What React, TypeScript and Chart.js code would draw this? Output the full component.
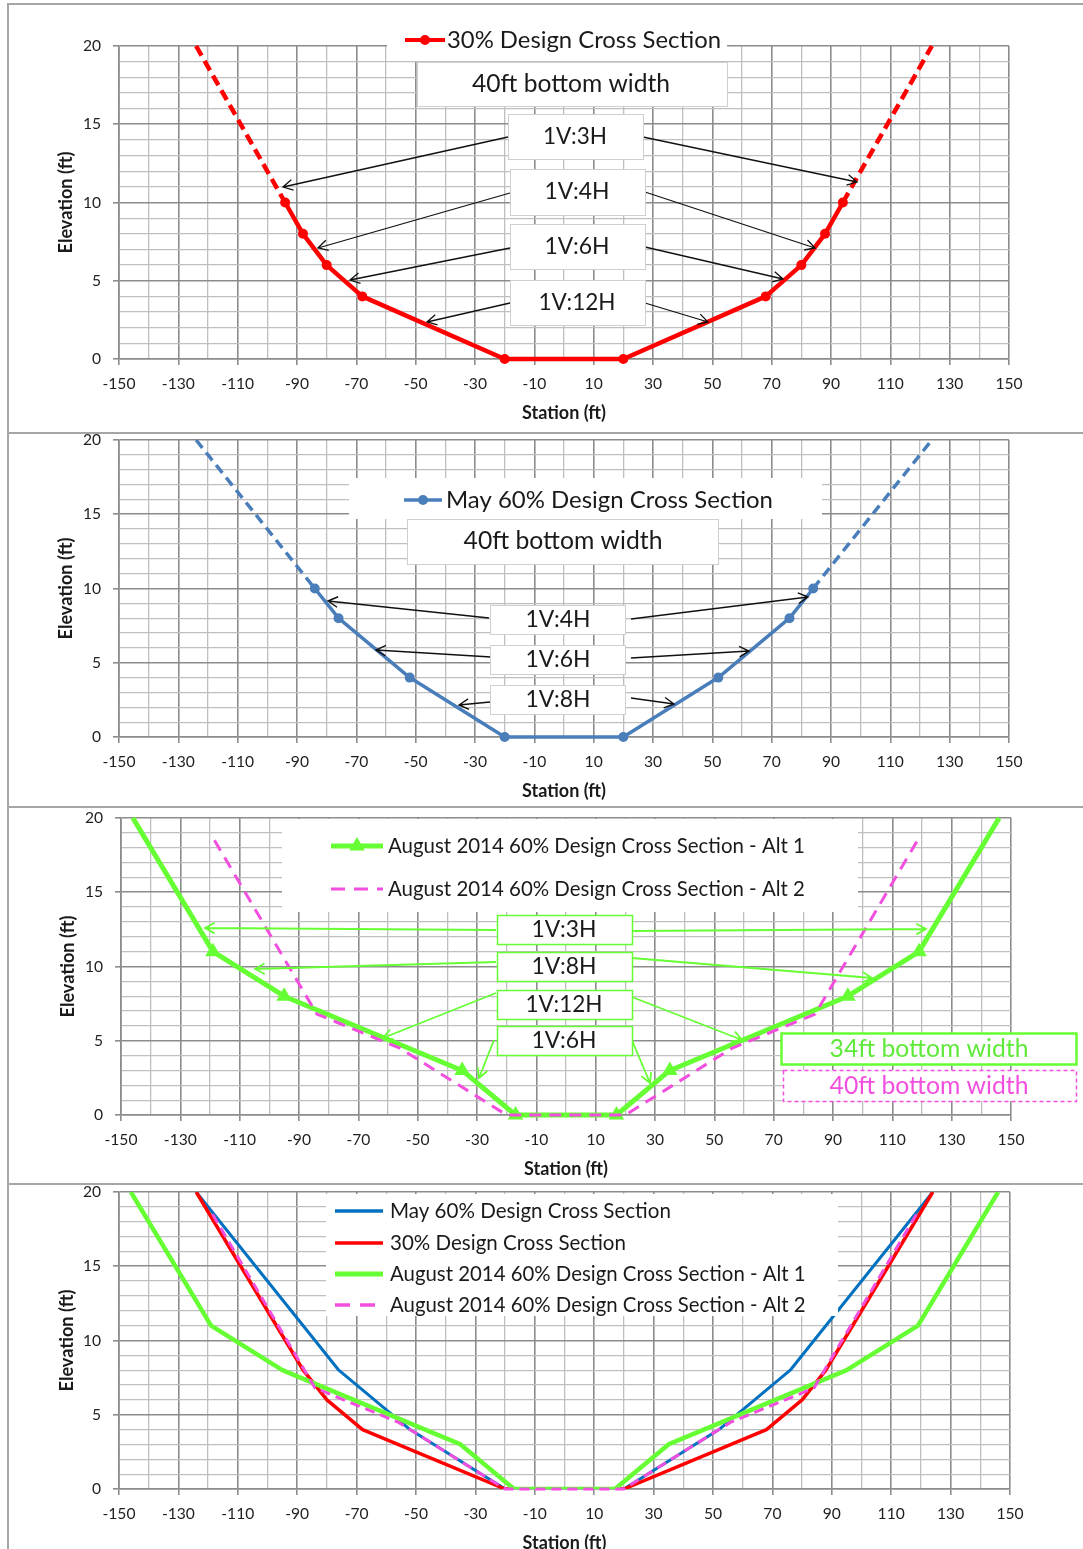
import React, { useEffect, useRef } from 'react';
import { Chart, registerables } from 'chart.js';

Chart.register(...registerables);

const FONT = 'Lato, "Open Sans", "DejaVu Sans", sans-serif';

// ---------- axes ----------
const X_TICK_LABELS = [-150, -130, -110, -90, -70, -50, -30, -10, 10, 30, 50, 70, 90, 110, 130, 150];
const Y_TICK_LABELS = [0, 5, 10, 15, 20];
const X_MIN = -150;
const X_MAX = 150;
const X_GRID_STEP = 10;
const Y_MIN = 0;
const Y_MAX = 20;
const Y_GRID_STEP = 1;
const X_TITLE = 'Station (ft)';
const Y_TITLE = 'Elevation (ft)';

// ---------- series ----------
const LABEL_30 = '30% Design Cross Section';
const LABEL_MAY = 'May 60% Design Cross Section';
const LABEL_ALT1 = 'August 2014 60% Design Cross Section - Alt 1';
const LABEL_ALT2 = 'August 2014 60% Design Cross Section - Alt 2';

const DESIGN30_X = [-124, -94, -88, -80, -68, -20, 20, 68, 80, 88, 94, 124];
const DESIGN30_Y = [20, 10, 8, 6, 4, 0, 0, 4, 6, 8, 10, 20];

const MAY60_X = [-124, -84, -76, -52, -20, 20, 52, 76, 84, 124];
const MAY60_Y = [20, 10, 8, 4, 0, 0, 4, 8, 10, 20];

const ALT1_X = [-146, -119, -95, -35, -17, 17, 35, 95, 119, 146];
const ALT1_Y = [20, 11, 8, 3, 0, 0, 3, 8, 11, 20];

const ALT2_X = [-118.5, -84, -56, -20, 20, 56, 84, 118.5];
const ALT2_Y = [18.5, 6.8, 4.5, 0, 0, 4.5, 6.8, 18.5];

// ---------- annotation texts ----------
const SLOPES_30 = ['1V:3H', '1V:4H', '1V:6H', '1V:12H'];
const SLOPES_MAY = ['1V:4H', '1V:6H', '1V:8H'];
const SLOPES_AUG = ['1V:3H', '1V:8H', '1V:12H', '1V:6H'];
const WIDTH_NOTES = ['40ft bottom width', '34ft bottom width'];

// ---------- colours ----------
const MAJOR = '#8c8c8c';
const MINOR = '#bfbfbf';
const TEXT = '#1a1a1a';
const TICK = '#1f1f1f';
const BOX_EDGE = '#cfcfcf';
const RED = '#FF0000';
const BLUE2 = '#4A7EBB';
const BLUE4 = '#0070C0';
const GREEN = '#66FF33';
const GREEN_TXT = '#5FEA3A';
const MAGENTA = '#F24FDF';

// ---------- helpers ----------
const pts = (xs: number[], ys: number[]) => xs.map((x, i) => ({ x, y: ys[i] }));
const endHidden = (n: number, r: number) => (c: any) => (c.dataIndex === 0 || c.dataIndex === n - 1 ? 0 : r);
const endDash = (n: number, d: number[]) => (c: any) =>
  c.p0DataIndex === 0 || c.p1DataIndex === n - 1 ? d : undefined;

function fitSize(text: string, width: number, weight = 'normal') {
  const c = document.createElement('canvas').getContext('2d') as CanvasRenderingContext2D;
  c.font = `${weight} 100px ${FONT}`;
  return (100 * width) / c.measureText(text).width;
}

function text(ctx: any, oy: number, t: string, x: number, y: number, w: number, color = TEXT, align: CanvasTextAlign = 'center') {
  ctx.save();
  ctx.font = `normal 100px ${FONT}`;
  const m = ctx.measureText(t).width;
  ctx.font = `normal ${((100 * w) / m).toFixed(2)}px ${FONT}`;
  ctx.fillStyle = color;
  ctx.textAlign = align;
  ctx.textBaseline = 'middle';
  ctx.fillText(t, x, y - oy);
  ctx.restore();
}

function box(ctx: any, oy: number, x1: number, y1: number, x2: number, y2: number, stroke?: string, lw = 1, dash?: number[]) {
  ctx.save();
  ctx.fillStyle = '#ffffff';
  ctx.fillRect(x1, y1 - oy, x2 - x1, y2 - y1);
  if (stroke) {
    ctx.strokeStyle = stroke;
    ctx.lineWidth = lw;
    ctx.setLineDash(dash || []);
    ctx.strokeRect(x1 + 0.5, y1 - oy + 0.5, x2 - x1, y2 - y1);
  }
  ctx.restore();
}

function arrow(ctx: any, oy: number, a: number[], color: string, lw: number) {
  const [x1, y1r, x2, y2r] = a;
  const y1 = y1r - oy;
  const y2 = y2r - oy;
  const ang = Math.atan2(y2 - y1, x2 - x1);
  const len = 11;
  const sp = 0.5;
  ctx.save();
  ctx.strokeStyle = color;
  ctx.lineWidth = lw;
  ctx.beginPath();
  ctx.moveTo(x1, y1);
  ctx.lineTo(x2, y2);
  ctx.moveTo(x2 - len * Math.cos(ang - sp), y2 - len * Math.sin(ang - sp));
  ctx.lineTo(x2, y2);
  ctx.lineTo(x2 - len * Math.cos(ang + sp), y2 - len * Math.sin(ang + sp));
  ctx.stroke();
  ctx.restore();
}

function legendLine(ctx: any, oy: number, x1: number, x2: number, yr: number, color: string, lw: number, dash?: number[], marker?: string, mr = 0) {
  const y = yr - oy;
  ctx.save();
  ctx.strokeStyle = color;
  ctx.fillStyle = color;
  ctx.lineWidth = lw;
  ctx.setLineDash(dash || []);
  ctx.beginPath();
  ctx.moveTo(x1, y);
  ctx.lineTo(x2, y);
  ctx.stroke();
  const cx = (x1 + x2) / 2;
  if (marker === 'circle') {
    ctx.beginPath();
    ctx.arc(cx, y, mr, 0, Math.PI * 2);
    ctx.fill();
  } else if (marker === 'triangle') {
    ctx.beginPath();
    ctx.moveTo(cx, y - mr);
    ctx.lineTo(cx + mr * 0.866, y + mr * 0.5);
    ctx.lineTo(cx - mr * 0.866, y + mr * 0.5);
    ctx.closePath();
    ctx.fill();
  }
  ctx.restore();
}

// ---------- panels ----------
type Spec = {
  L: number; R: number; T: number; B: number; yTitleX: number;
  datasets: any[];
  draw: (ctx: any, oy: number) => void;
};

const n30 = DESIGN30_X.length;
const nMay = MAY60_X.length;
const nA1 = ALT1_X.length;

const PANEL1: Spec = {
  L: 119, R: 1009, T: 46, B: 359, yTitleX: 66,
  datasets: [
    {
      label: LABEL_30, data: pts(DESIGN30_X, DESIGN30_Y), borderColor: RED, backgroundColor: RED,
      borderWidth: 4.5, borderJoinStyle: 'round', pointStyle: 'circle', pointRadius: endHidden(n30, 5),
      pointBorderWidth: 0, pointBackgroundColor: RED, segment: { borderDash: endDash(n30, [11, 6]) }, clip: false,
    },
  ],
  draw: (ctx, oy) => {
    const arrows = [
      [508, 137, 283, 187], [510, 193, 318, 248], [510, 248, 350, 280], [510, 303, 427, 322],
      [643, 137, 857, 182], [645, 192, 815, 248], [645, 247, 783, 279], [645, 303, 708, 322],
    ];
    arrows.forEach((a) => arrow(ctx, oy, a, '#111111', 1.3));
    box(ctx, oy, 387, 26, 727, 61);
    legendLine(ctx, oy, 405, 445, 40, RED, 4, undefined, 'circle', 5);
    text(ctx, oy, LABEL_30, 447, 40, 274, TEXT, 'left');
    box(ctx, oy, 417, 62, 727, 106, BOX_EDGE);
    text(ctx, oy, WIDTH_NOTES[0], 571, 84, 198);
    const boxes = [[508, 114, 643, 159], [510, 169, 645, 215], [510, 224, 645, 269], [510, 280, 645, 325]];
    const cs = [[575, 137, 64], [577, 192, 65], [577, 247, 65], [577, 303, 77]];
    boxes.forEach((b, i) => {
      box(ctx, oy, b[0], b[1], b[2], b[3], BOX_EDGE);
      text(ctx, oy, SLOPES_30[i], cs[i][0], cs[i][1], cs[i][2]);
    });
  },
};

const PANEL2: Spec = {
  L: 119, R: 1009, T: 440, B: 737, yTitleX: 66,
  datasets: [
    {
      label: LABEL_MAY, data: pts(MAY60_X, MAY60_Y), borderColor: BLUE2, backgroundColor: BLUE2,
      borderWidth: 3.5, borderJoinStyle: 'round', pointStyle: 'circle', pointRadius: endHidden(nMay, 5),
      pointBorderWidth: 0, pointBackgroundColor: BLUE2, segment: { borderDash: endDash(nMay, [10, 6]) }, clip: false,
    },
  ],
  draw: (ctx, oy) => {
    const arrows = [
      [489, 618, 328, 601], [631, 619, 808, 597], [491, 657, 376, 650],
      [631, 658, 749, 651], [490, 702, 459, 705], [631, 698, 674, 704],
    ];
    arrows.forEach((a) => arrow(ctx, oy, a, '#111111', 1.4));
    box(ctx, oy, 349, 478, 822, 519);
    legendLine(ctx, oy, 404, 442, 500, BLUE2, 3.5, undefined, 'circle', 5);
    text(ctx, oy, LABEL_MAY, 446, 500, 327, TEXT, 'left');
    box(ctx, oy, 407, 519, 718, 564, BOX_EDGE);
    text(ctx, oy, WIDTH_NOTES[0], 563, 541, 199);
    const ys = [[605, 634], [645, 674], [685, 714]];
    ys.forEach((y, i) => {
      box(ctx, oy, 490, y[0], 625, y[1], BOX_EDGE);
      text(ctx, oy, SLOPES_MAY[i], 558, (y[0] + y[1]) / 2, 65);
    });
  },
};

const alt2Dataset = (lw: number, dash: number[]) => ({
  label: LABEL_ALT2, data: pts(ALT2_X, ALT2_Y), borderColor: MAGENTA, backgroundColor: MAGENTA,
  borderWidth: lw, borderDash: dash, pointRadius: 0, order: 0, clip: false,
});

const PANEL3: Spec = {
  L: 121, R: 1011, T: 818, B: 1115, yTitleX: 68,
  datasets: [
    alt2Dataset(3, [12, 8]),
    {
      label: LABEL_ALT1, data: pts(ALT1_X, ALT1_Y), borderColor: GREEN, backgroundColor: GREEN,
      borderWidth: 5, borderJoinStyle: 'round', pointStyle: 'triangle', pointRadius: endHidden(nA1, 9),
      pointBorderWidth: 0, pointBackgroundColor: GREEN, order: 1, clip: false,
    },
  ],
  draw: (ctx, oy) => {
    const arrows = [
      [496, 930, 205, 928], [632, 931, 926, 929], [496, 962, 255, 969], [632, 958, 872, 978],
      [496, 993, 383, 1038], [632, 997, 742, 1040], [494, 1040, 479, 1078], [631, 1038, 650, 1083],
    ];
    arrows.forEach((a) => arrow(ctx, oy, a, GREEN, 1.8));
    box(ctx, oy, 282, 819, 858, 912);
    legendLine(ctx, oy, 331, 383, 846, GREEN, 5, undefined, 'triangle', 9);
    text(ctx, oy, LABEL_ALT1, 388, 846, 417, TEXT, 'left');
    legendLine(ctx, oy, 331, 383, 889, MAGENTA, 3, [14, 9]);
    text(ctx, oy, LABEL_ALT2, 388, 889, 417, TEXT, 'left');
    const ys = [[915, 944], [952, 981], [990, 1019], [1026, 1055]];
    const ws = [65, 65, 77, 65];
    ys.forEach((y, i) => {
      box(ctx, oy, 497, y[0], 632, y[1], GREEN, 1.5);
      text(ctx, oy, SLOPES_AUG[i], 564, (y[0] + y[1]) / 2, ws[i]);
    });
    box(ctx, oy, 781, 1033, 1076, 1064, GREEN, 2.5);
    text(ctx, oy, WIDTH_NOTES[1], 929, 1049, 199, GREEN_TXT);
    box(ctx, oy, 783, 1070, 1076, 1101, MAGENTA, 1.5, [4, 3]);
    text(ctx, oy, WIDTH_NOTES[0], 929, 1086, 199, MAGENTA);
  },
};

const PANEL4: Spec = {
  L: 119, R: 1010, T: 1192, B: 1489, yTitleX: 67,
  datasets: [
    alt2Dataset(3, [10, 6]),
    {
      label: LABEL_ALT1, data: pts(ALT1_X, ALT1_Y), borderColor: GREEN, borderWidth: 4.5,
      borderJoinStyle: 'round', pointRadius: 0, order: 1,
    },
    {
      label: LABEL_30, data: pts(DESIGN30_X, DESIGN30_Y), borderColor: RED, borderWidth: 3.5,
      borderJoinStyle: 'round', pointRadius: 0, order: 2,
    },
    {
      label: LABEL_MAY, data: pts(MAY60_X, MAY60_Y), borderColor: BLUE4, borderWidth: 3,
      borderJoinStyle: 'round', pointRadius: 0, order: 3,
    },
  ],
  draw: (ctx, oy) => {
    box(ctx, oy, 326, 1194, 838, 1316);
    legendLine(ctx, oy, 335, 383, 1211, BLUE4, 3.5);
    text(ctx, oy, LABEL_MAY, 390, 1211, 281, TEXT, 'left');
    legendLine(ctx, oy, 335, 383, 1243, RED, 3.5);
    text(ctx, oy, LABEL_30, 390, 1243, 236, TEXT, 'left');
    legendLine(ctx, oy, 335, 383, 1274, GREEN, 5);
    text(ctx, oy, LABEL_ALT1, 390, 1274, 416, TEXT, 'left');
    legendLine(ctx, oy, 335, 383, 1305, MAGENTA, 3.5, [15, 10]);
    text(ctx, oy, LABEL_ALT2, 390, 1305, 416, TEXT, 'left');
  },
};

const PANELS = [PANEL1, PANEL2, PANEL3, PANEL4];
const PANEL_TOPS = [3, 432, 806, 1183];

const TOP_PAD = 40;
const BOTTOM_H = 70;
const LEFT_PAD = 40;

function buildConfig(spec: Spec): any {
  const oy = spec.T - TOP_PAD;
  const tickSize = fitSize('-150', 33);
  const xtSize = fitSize(X_TITLE, 84, 'bold');
  const ytSize = fitSize(Y_TITLE, 102, 'bold');
  const tickLH = tickSize * 1.2;
  const xtLH = xtSize * 1.2;
  const ytLH = ytSize * 1.2;
  const isMajorX = (v: number) => X_TICK_LABELS.includes(v);
  const isMajorY = (v: number) => Y_TICK_LABELS.includes(v);
  return {
    type: 'line',
    data: { datasets: spec.datasets },
    options: {
      responsive: false,
      animation: false,
      devicePixelRatio: 1,
      events: [],
      layout: { padding: { left: LEFT_PAD, right: 1083 - spec.R, top: TOP_PAD, bottom: 0 } },
      plugins: { legend: { display: false }, tooltip: { enabled: false } },
      scales: {
        x: {
          type: 'linear', min: X_MIN, max: X_MAX,
          ticks: {
            stepSize: X_GRID_STEP, autoSkip: false, maxRotation: 0, minRotation: 0,
            padding: 25 - 6 - tickLH / 2, color: TICK, font: { family: FONT, size: tickSize },
            callback: (v: any) => (isMajorX(Number(v)) ? String(v) : ''),
          },
          grid: {
            color: (c: any) => (isMajorX(c.tick?.value) ? MAJOR : MINOR),
            tickColor: (c: any) => (isMajorX(c.tick?.value) ? MAJOR : 'rgba(0,0,0,0)'),
            lineWidth: (c: any) => (isMajorX(c.tick?.value) ? 1.6 : 1.3),
            tickLength: 6,
          },
          border: { color: MAJOR, width: 1.6 },
          title: {
            display: true, text: X_TITLE, color: TEXT,
            font: { family: FONT, size: xtSize, weight: 'bold' },
            padding: { top: 0, bottom: BOTTOM_H - 54 - xtLH / 2 },
          },
          afterFit: (s: any) => { s.height = BOTTOM_H; },
        },
        y: {
          type: 'linear', min: Y_MIN, max: Y_MAX,
          ticks: {
            stepSize: Y_GRID_STEP, autoSkip: false, padding: 12, color: TICK,
            font: { family: FONT, size: tickSize },
            callback: (v: any) => (isMajorY(Number(v)) ? String(v) : ''),
          },
          grid: {
            color: (c: any) => (isMajorY(c.tick?.value) ? MAJOR : MINOR),
            tickColor: (c: any) => (isMajorY(c.tick?.value) ? MAJOR : 'rgba(0,0,0,0)'),
            lineWidth: (c: any) => (isMajorY(c.tick?.value) ? 1.6 : 1.3),
            tickLength: 6,
          },
          border: { color: MAJOR, width: 1.6 },
          title: {
            display: true, text: Y_TITLE, color: TEXT,
            font: { family: FONT, size: ytSize, weight: 'bold' },
            padding: { top: spec.yTitleX - LEFT_PAD - ytLH / 2, bottom: 0 },
          },
          afterFit: (s: any) => { s.width = spec.L - LEFT_PAD; },
        },
      },
    },
    plugins: [
      {
        id: 'annotations',
        afterDatasetsDraw(chart: any) {
          spec.draw(chart.ctx, oy);
        },
      },
    ],
  };
}

function PanelChart({ spec }: { spec: Spec }) {
  const ref = useRef<HTMLCanvasElement>(null);
  const top = spec.T - TOP_PAD;
  const h = spec.B - spec.T + TOP_PAD + BOTTOM_H;
  useEffect(() => {
    const chart = new Chart(ref.current as HTMLCanvasElement, buildConfig(spec));
    return () => chart.destroy();
  }, []);
  return (
    <canvas
      ref={ref}
      width={1083}
      height={h}
      style={{ position: 'absolute', left: 0, top, width: 1083, height: h }}
    />
  );
}

export default function App() {
  return (
    <div
      style={{
        position: 'absolute', left: 0, top: 0, width: 1083, height: 1549,
        overflow: 'hidden', background: '#ffffff',
      }}
    >
      {PANEL_TOPS.map((t) => (
        <div key={t} style={{ position: 'absolute', left: 7, top: t, width: 1100, height: 2, background: '#a6a6a6' }} />
      ))}
      <div style={{ position: 'absolute', left: 7, top: 3, width: 2, height: 1560, background: '#a6a6a6' }} />
      {PANELS.map((p, i) => (
        <PanelChart key={i} spec={p} />
      ))}
    </div>
  );
}
